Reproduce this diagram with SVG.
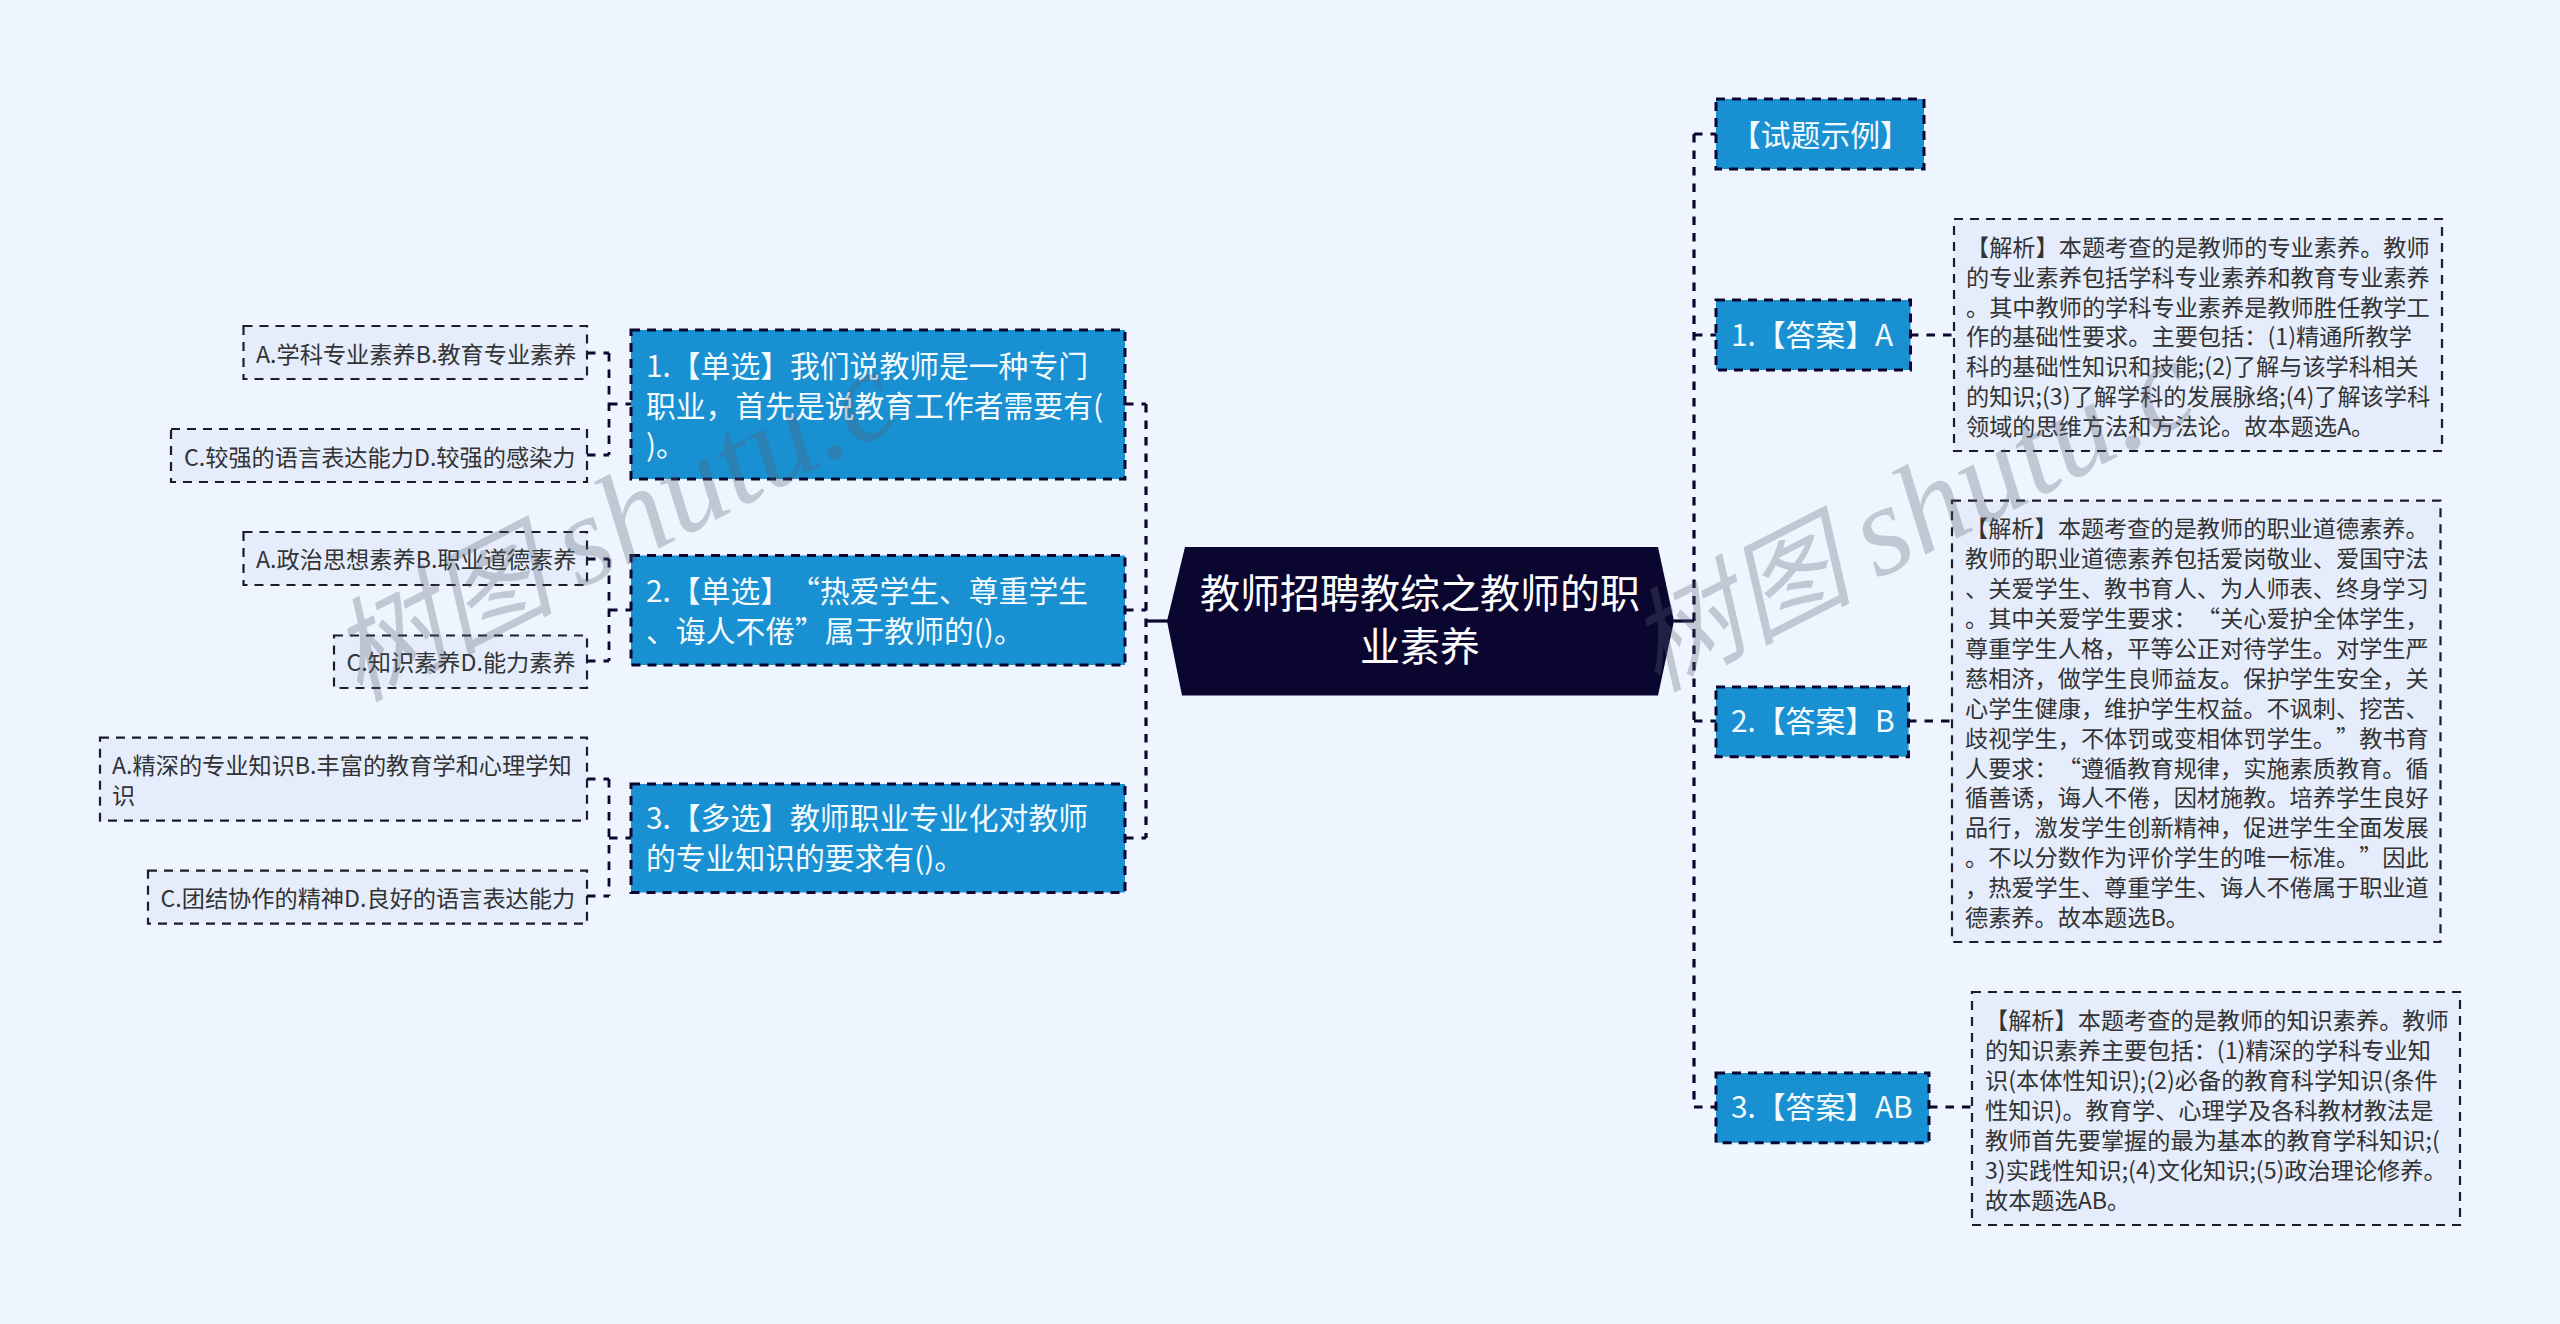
<svg xmlns="http://www.w3.org/2000/svg" width="2560" height="1324" viewBox="0 0 2560 1324">
<style>
text{font-family:"Noto Sans CJK SC","Noto Sans",sans-serif;text-spacing-trim:space-all}
.q rect{fill:#1890d2;stroke:#0b0630;stroke-width:3;stroke-dasharray:9 7}
.q text{fill:#f4fbff;font-size:29.8px}
.d rect{fill:#e5edfc;stroke:#1c1c2a;stroke-width:2.2;stroke-dasharray:9 7}
.d text{fill:#333;font-size:23.2px}
.c path{fill:none;stroke:#0b0630;stroke-width:3.2;stroke-dasharray:8.5 8}
.c path.s{stroke-dasharray:none}
.c path.t{stroke-width:2.8}
.w{font-family:"Liberation Serif","Noto Sans CJK SC",serif;font-style:italic;font-size:128px;word-spacing:-8px;fill:#5a5f70;fill-opacity:.3}
.w tspan{font-size:112px}
</style>
<rect width="2560" height="1324" fill="#eef5ff"/>
<g id="connectors" class="c">
<path d="M1146 404V838"/>
<path d="M1125 404H1146M1125 610H1146M1125 838H1146"/>
<path class="s" d="M1146 621H1168"/>
<path d="M1694 134V1107"/>
<path d="M1694 134H1716M1694 335H1716M1694 721H1716M1694 1107H1716"/>
<path class="s" d="M1674 621H1694"/>
<path class="t" d="M609 353V455M587 353H609M587 455H609M609 404H631"/>
<path class="t" d="M609 559V661M587 559H609M587 661H609M609 610H631"/>
<path class="t" d="M609 779V896M587 779H609M587 896H609M609 838H631"/>
<path class="t" d="M1910 335H1954M1908 721H1952M1929 1107H1972"/>
</g>
<g id="root">
<path d="M1167 621L1185 547H1658L1674 621L1658 695.500H1182Z" fill="#0b0630"/>
<text x="1420" y="608" text-anchor="middle" font-size="40" fill="#fff">教师招聘教综之教师的职</text>
<text x="1420" y="661" text-anchor="middle" font-size="40" fill="#fff">业素养</text>
</g>
<g id="q1" class="q"><rect x="631" y="330" width="494" height="149"/>
<text x="646" y="377">1.【单选】我们说教师是一种专门</text><text x="646" y="416.500">职业，首先是说教育工作者需要有(</text><text x="646" y="456">)。</text></g>
<g id="q2" class="q"><rect x="631" y="555.500" width="494" height="109.500"/>
<text x="646" y="601.500">2.【单选】“热爱学生、尊重学生</text><text x="646" y="641.500">、诲人不倦”属于教师的()。</text></g>
<g id="q3" class="q"><rect x="631" y="784" width="494" height="108.500"/>
<text x="646" y="829">3.【多选】教师职业专业化对教师</text><text x="646" y="869">的专业知识的要求有()。</text></g>
<g id="o1" class="d"><rect x="243.500" y="326" width="343.500" height="53"/><text x="256" y="362.700">A.学科专业素养B.教育专业素养</text></g>
<g id="o2" class="d"><rect x="171" y="429" width="416" height="53"/><text x="184" y="465.800">C.较强的语言表达能力D.较强的感染力</text></g>
<g id="o3" class="d"><rect x="243.500" y="532" width="343.500" height="53"/><text x="256" y="568">A.政治思想素养B.职业道德素养</text></g>
<g id="o4" class="d"><rect x="334" y="635.500" width="253" height="52.500"/><text x="346.500" y="670.800">C.知识素养D.能力素养</text></g>
<g id="o5" class="d"><rect x="100" y="737.700" width="487" height="83"/><text x="112" y="774">A.精深的专业知识B.丰富的教育学和心理学知</text><text x="112" y="804">识</text></g>
<g id="o6" class="d"><rect x="148" y="870.700" width="439" height="53"/><text x="160.500" y="906.500">C.团结协作的精神D.良好的语言表达能力</text></g>
<g id="a0" class="q"><rect x="1716" y="99" width="208" height="70"/><text x="1731" y="145.500">【试题示例】</text></g>
<g id="a1" class="q"><rect x="1716" y="300" width="194.500" height="70"/><text x="1731" y="345.500">1.【答案】A</text></g>
<g id="a2" class="q"><rect x="1716" y="687" width="192.500" height="69.700"/><text x="1731" y="731.500">2.【答案】B</text></g>
<g id="a3" class="q"><rect x="1716" y="1073" width="213" height="69.700"/><text x="1731" y="1118">3.【答案】AB</text></g>
<g id="e1" class="d"><rect x="1954" y="219" width="488" height="232"/>
<text x="1966" y="255.700">【解析】本题考查的是教师的专业素养。教师</text>
<text x="1966" y="285.600">的专业素养包括学科专业素养和教育专业素养</text>
<text x="1966" y="315.500">。其中教师的学科专业素养是教师胜任教学工</text>
<text x="1966" y="345.400">作的基础性要求。主要包括：(1)精通所教学</text>
<text x="1966" y="375.300">科的基础性知识和技能;(2)了解与该学科相关</text>
<text x="1966" y="405.200">的知识;(3)了解学科的发展脉络;(4)了解该学科</text>
<text x="1966" y="435.100">领域的思维方法和方法论。故本题选A。</text></g>
<g id="e2" class="d"><rect x="1952" y="500.700" width="488.500" height="441.300"/>
<text x="1965" y="537.300">【解析】本题考查的是教师的职业道德素养。</text>
<text x="1965" y="567.200">教师的职业道德素养包括爱岗敬业、爱国守法</text>
<text x="1965" y="597.100">、关爱学生、教书育人、为人师表、终身学习</text>
<text x="1965" y="627">。其中关爱学生要求：“关心爱护全体学生，</text>
<text x="1965" y="656.900">尊重学生人格，平等公正对待学生。对学生严</text>
<text x="1965" y="686.800">慈相济，做学生良师益友。保护学生安全，关</text>
<text x="1965" y="716.700">心学生健康，维护学生权益。不讽刺、挖苦、</text>
<text x="1965" y="746.600">歧视学生，不体罚或变相体罚学生。”教书育</text>
<text x="1965" y="776.500">人要求：“遵循教育规律，实施素质教育。循</text>
<text x="1965" y="806.400">循善诱，诲人不倦，因材施教。培养学生良好</text>
<text x="1965" y="836.300">品行，激发学生创新精神，促进学生全面发展</text>
<text x="1965" y="866.200">。不以分数作为评价学生的唯一标准。”因此</text>
<text x="1965" y="896.100">，热爱学生、尊重学生、诲人不倦属于职业道</text>
<text x="1965" y="926">德素养。故本题选B。</text></g>
<g id="e3" class="d"><rect x="1972" y="992" width="488" height="233"/>
<text x="1985" y="1028.700">【解析】本题考查的是教师的知识素养。教师</text>
<text x="1985" y="1058.700">的知识素养主要包括：(1)精深的学科专业知</text>
<text x="1985" y="1088.700">识(本体性知识);(2)必备的教育科学知识(条件</text>
<text x="1985" y="1118.700">性知识)。教育学、心理学及各科教材教法是</text>
<text x="1985" y="1148.700">教师首先要掌握的最为基本的教育学科知识;(</text>
<text x="1985" y="1178.700">3)实践性知识;(4)文化知识;(5)政治理论修养。</text>
<text x="1985" y="1208.700">故本题选AB。</text></g>
<text class="w" transform="translate(358 702) rotate(-27)"><tspan>树图</tspan> shutu.c</text>
<text class="w" transform="translate(1656 692) rotate(-27)"><tspan>树图</tspan> shutu.c</text>
</svg>
